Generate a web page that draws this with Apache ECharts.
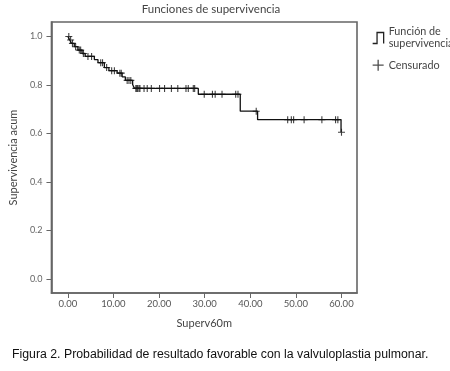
<!DOCTYPE html>
<html>
<head>
<meta charset="utf-8">
<script src="https://cdn.jsdelivr.net/npm/echarts@6/dist/echarts.min.js"></script>
<style>
  html, body { margin: 0; padding: 0; background: #fff; }
  #chart { width: 450px; height: 371px; }
</style>
</head>
<body>
<div id="chart"></div>
<script>
// tiempos de evento y supervivencia acumulada tras cada evento
var eventTimes = [0.4, 0.8, 1.4, 2.2, 3.1, 3.8, 5.8, 6.6, 8.0, 9.0, 10.8, 11.9, 12.6, 14.2, 14.6, 28.6, 37.8, 41.6, 59.9];
var survival = [0.986, 0.972, 0.958, 0.944, 0.930, 0.918, 0.905, 0.892, 0.872, 0.859, 0.849, 0.834, 0.819, 0.802, 0.786, 0.762, 0.692, 0.657, 0.605];
var lastTime = 60;
// casos censurados
var censorTimes = [0.2, 0.6, 1.0, 1.7, 2.5, 2.8, 3.4, 4.4, 5.2, 7.2, 7.6, 8.5, 9.6, 10.2, 11.4, 11.7, 13.0, 13.4, 13.8,
  14.9, 15.1, 15.3, 15.6, 15.8, 16.7, 17.4, 18.3, 20.1, 21.2, 22.7, 24.1, 25.9, 26.4, 27.5, 27.8,
  29.9, 31.7, 32.3, 33.8, 36.8, 37.3, 41.3, 48.2, 49.0, 49.5, 51.8, 55.7, 58.7, 59.2, 60.0];
var xTicks = [0, 10, 20, 30, 40, 50, 60];
var yTicks = [0, 0.2, 0.4, 0.6, 0.8, 1.0];

var FONT = 'Lato';
var STEP_ICON = 'path://M0,10L4,10L4,0L10,0L10,10';
var PLUS_ICON = 'path://M5,0L5,10M0,5L10,5';

// curva escalonada
var curve = [[0, 1]];
eventTimes.forEach(function (t, i) { curve.push([t, survival[i]]); });
curve.push([lastTime, survival[survival.length - 1]]);

function survAt(t) {
  var s = 1;
  for (var i = 0; i < eventTimes.length; i++) {
    if (eventTimes[i] <= t) s = survival[i];
  }
  return s;
}
var censored = censorTimes.map(function (t) { return [t, survAt(t)]; });

var chart = echarts.init(document.getElementById('chart'), null, { renderer: 'canvas' });
chart.setOption({
  animation: false,
  title: [
    {
      text: 'Funciones de supervivencia',
      left: 206, top: -2, textAlign: 'center',
      textStyle: { fontFamily: FONT, fontSize: 11.5, fontWeight: 'normal', color: '#444' }
    },
    {
      text: 'Figura 2. Probabilidad de resultado favorable con la valvuloplastia pulmonar.',
      left: 7, top: 344,
      textStyle: { fontFamily: 'Liberation Sans', fontSize: 12.3, fontWeight: 'normal', color: '#111' }
    }
  ],
  legend: {
    orient: 'vertical',
    left: 367, top: 21,
    itemWidth: 11, itemHeight: 13,
    itemGap: 9,
    selectedMode: false,
    textStyle: { fontFamily: FONT, fontSize: 10.8, color: '#444', lineHeight: 12 },
    formatter: function (name) {
      return name === 'Función de supervivencia' ? 'Función de\nsupervivencia' : name;
    },
    data: [
      { name: 'Función de supervivencia', icon: STEP_ICON,
        itemStyle: { color: 'transparent', borderColor: '#222', borderWidth: 1.3 } },
      { name: 'Censurado', icon: PLUS_ICON,
        itemStyle: { color: 'transparent', borderColor: '#222', borderWidth: 1.3 } }
    ]
  },
  grid: {
    left: 40, right: 93, top: 22, bottom: 78,
    show: true, borderColor: '#666', borderWidth: 1.6
  },
  xAxis: {
    type: 'value',
    min: -3.6, max: 63.4,
    name: 'Superv60m',
    nameLocation: 'middle',
    nameGap: 25,
    nameTextStyle: { fontFamily: FONT, fontSize: 11, color: '#444' },
    axisLine: { show: true, onZero: false, lineStyle: { color: '#666', width: 1.6 } },
    axisTick: { show: true, length: 5, customValues: xTicks, lineStyle: { color: '#666' } },
    axisLabel: {
      customValues: xTicks, margin: 6,
      fontFamily: FONT, fontSize: 9.5, color: '#555',
      formatter: function (v) { return v.toFixed(2); }
    },
    splitLine: { show: false }
  },
  yAxis: {
    type: 'value',
    min: -0.058, max: 1.06,
    name: 'Supervivencia acum',
    nameLocation: 'middle',
    nameGap: 28,
    nameTextStyle: { fontFamily: FONT, fontSize: 11, color: '#444' },
    axisLine: { show: true, onZero: false, lineStyle: { color: '#666', width: 1.6 } },
    axisTick: { show: true, length: 5, customValues: yTicks, lineStyle: { color: '#666' } },
    axisLabel: {
      customValues: yTicks, margin: 9,
      fontFamily: FONT, fontSize: 9, color: '#666',
      formatter: function (v) { return v.toFixed(1); }
    },
    splitLine: { show: false }
  },
  series: [
    {
      name: 'Función de supervivencia',
      type: 'line',
      step: 'end',
      data: curve,
      showSymbol: false,
      symbol: 'none',
      lineStyle: { color: '#111', width: 1.3 },
      itemStyle: { color: '#111' },
      z: 2
    },
    {
      name: 'Censurado',
      type: 'scatter',
      data: censored,
      symbol: PLUS_ICON,
      symbolSize: 7,
      itemStyle: { color: 'transparent', borderColor: '#111', borderWidth: 1.1 },
      z: 3
    }
  ]
});
</script>
</body>
</html>
